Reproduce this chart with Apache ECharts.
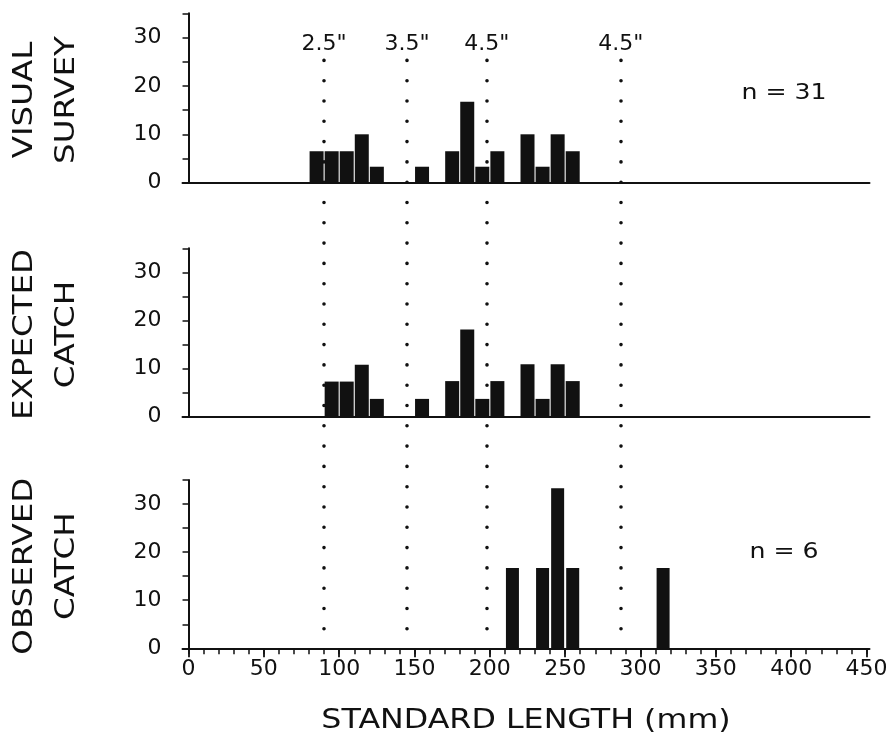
<!DOCTYPE html>
<html>
<head>
<meta charset="utf-8">
<script src="https://cdn.jsdelivr.net/npm/echarts@6/dist/echarts.min.js"></script>
<style>
  html, body { margin: 0; padding: 0; background: #fff; }
  #chart { width: 892px; height: 755px; }
</style>
</head>
<body>
<div id="chart"></div>
<script>
// Length-frequency (%) in 10 mm bins, labelled by bin centre (mm)
const visualBins = [85, 95, 105, 115, 125, 155, 175, 185, 195, 205, 225, 235, 245, 255];
const visualPct  = [6.5, 6.5, 6.5, 10, 3.3, 3.3, 6.5, 16.7, 3.3, 6.5, 10, 3.3, 10, 6.5];

const expectedBins = [95, 105, 115, 125, 155, 175, 185, 195, 205, 225, 235, 245, 255];
const expectedPct  = [7.3, 7.3, 10.8, 3.7, 3.7, 7.4, 18.1, 3.7, 7.4, 10.9, 3.7, 10.9, 7.4];

const observedBins = [215, 235, 245, 255, 315];
const observedPct  = [16.7, 16.7, 33.3, 16.7, 16.7];

// Mesh-size retention limits (mm) and their labels
const meshLimits = [90, 145, 198, 287];
const meshLabels = ['2.5"', '3.5"', '4.5"', '4.5"'];

const panelNames = [['VISUAL', 'SURVEY'], ['EXPECTED', 'CATCH'], ['OBSERVED', 'CATCH']];
const sampleSizes = ['n = 31', null, 'n = 6'];

const xMinorTicks = [0, 10, 20, 30, 40, 50, 60, 70, 80, 90, 100, 110, 120, 130, 140, 150, 160, 170, 180, 190,
  200, 210, 220, 230, 240, 250, 260, 270, 280, 290, 300, 310, 320, 330, 340, 350, 360, 370, 380, 390,
  400, 410, 420, 430, 440, 450];
const xTickLabels = [0, 50, 100, 150, 200, 250, 300, 350, 400, 450];

const INK = '#111';
const FONT = 'DejaVu Sans';

const chart = echarts.init(document.getElementById('chart'), null, { renderer: 'canvas' });

const gridLeft = 182.5, gridWidth = 687;
const panels = [
  { top: 13.3, height: 169.4 },
  { top: 248.3, height: 168.4 },
  { top: 480, height: 168.3 }
];

const grids = panels.map(p => ({ left: gridLeft, width: gridWidth, top: p.top, height: p.height }));
// overlay grid carrying the dotted mesh-limit lines across all panels
grids.push({ left: gridLeft, width: gridWidth, top: 60.2, height: 568.6 });

const xAxes = panels.map((p, i) => ({
  type: 'value', gridIndex: i, position: 'bottom', min: -4, max: 452,
  splitLine: { show: false },
  axisLine: { show: true, onZero: false, lineStyle: { color: INK, width: 2 } },
  axisTick: i === 2
    ? { show: true, customValues: xMinorTicks, length: 6, lineStyle: { color: INK, width: 1.5 } }
    : { show: false },
  axisLabel: i === 2
    ? { show: true, customValues: xTickLabels, margin: 10, color: INK, fontFamily: FONT, fontSize: 22 }
    : { show: false }
}));
xAxes.push({ type: 'value', gridIndex: 3, min: -4, max: 452, show: false });
// longer ticks at every 50 mm on the bottom axis
xAxes.push({
  type: 'value', gridIndex: 2, position: 'bottom', min: -4, max: 452,
  splitLine: { show: false },
  axisLine: { show: false, onZero: false },
  axisTick: { show: true, customValues: xTickLabels, length: 9, lineStyle: { color: INK, width: 1.8 } },
  axisLabel: { show: false }
});

const yAxes = panels.map((p, i) => ({
  type: 'value', gridIndex: i, min: 0, max: 35, interval: 5,
  splitLine: { show: false },
  axisLine: { show: true, lineStyle: { color: INK, width: 2 } },
  axisTick: { show: true, length: 6, lineStyle: { color: INK, width: 1.5 } },
  axisLabel: {
    margin: 21, color: INK, fontFamily: FONT, fontSize: 22,
    formatter: v => (v % 10 === 0 ? String(v) : '')
  }
}));
yAxes.push({ type: 'value', gridIndex: 3, min: 0, max: 1, show: false });

const barSeries = [
  [visualBins, visualPct],
  [expectedBins, expectedPct],
  [observedBins, observedPct]
].map(([bins, vals], i) => ({
  type: 'bar', xAxisIndex: i, yAxisIndex: i,
  barWidth: i === 2 ? 13 : 14,
  itemStyle: { color: INK },
  data: bins.map((b, k) => [b, vals[k]])
}));

const meshSeries = {
  type: 'scatter', xAxisIndex: 3, yAxisIndex: 3, data: [], silent: true,
  markLine: {
    silent: true, symbol: 'none', animation: false,
    lineStyle: { color: INK, width: 3.6, type: [0, 20.3], cap: 'round' },
    label: {
      show: true, position: 'end', distance: 5, color: INK,
      fontFamily: FONT, fontSize: 22,
      formatter: p => p.name
    },
    data: meshLimits.map((x, k) => ({ xAxis: x, name: meshLabels[k] }))
  }
};

// panel titles (two rotated lines each), sample sizes and the x-axis title
const graphics = [];
panels.forEach((p, i) => {
  const cy = p.top + p.height / 2 + 2;
  [25, 67].forEach((cx, line) => {
    graphics.push({
      type: 'text', x: cx, y: cy, rotation: Math.PI / 2, scaleX: 1.25,
      style: {
        text: panelNames[i][line], fill: INK, font: '26px "' + FONT + '"',
        textAlign: 'center', textVerticalAlign: 'middle', align: 'center', verticalAlign: 'middle'
      }
    });
  });
  if (sampleSizes[i]) {
    graphics.push({
      type: 'text', x: 784, y: i === 0 ? 94 : 553, scaleX: 1.2,
      style: {
        text: sampleSizes[i], fill: INK, font: '21px "' + FONT + '"',
        textAlign: 'center', textVerticalAlign: 'middle', align: 'center', verticalAlign: 'middle'
      }
    });
  }
});
graphics.push({
  type: 'text', x: 526, y: 721, scaleX: 1.22,
  style: {
    text: 'STANDARD LENGTH (mm)', fill: INK, font: '26px "' + FONT + '"',
    textAlign: 'center', textVerticalAlign: 'middle', align: 'center', verticalAlign: 'middle'
  }
});

chart.setOption({
  backgroundColor: '#fff',
  animation: false,
  grid: grids,
  xAxis: xAxes,
  yAxis: yAxes,
  series: barSeries.concat([meshSeries]),
  graphic: graphics
});
</script>
</body>
</html>
